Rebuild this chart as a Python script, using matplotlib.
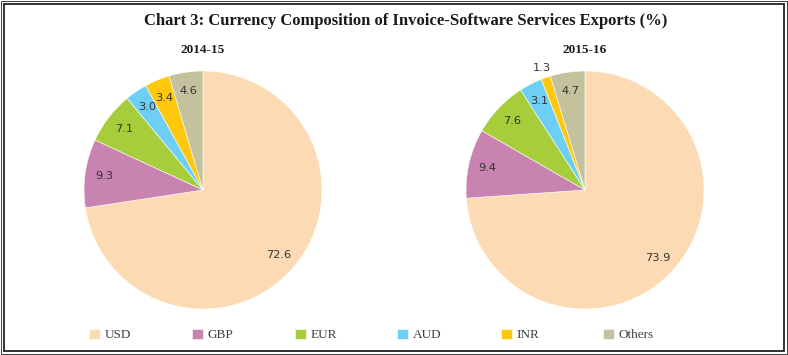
import matplotlib
matplotlib.use("Agg")
import matplotlib.pyplot as plt
from matplotlib.patches import Rectangle
from matplotlib.font_manager import FontProperties
import numpy as np

categories = ["USD", "GBP", "EUR", "AUD", "INR", "Others"]
values_2014 = [72.6, 9.3, 7.1, 3.0, 3.4, 4.6]
values_2015 = [73.9, 9.4, 7.6, 3.1, 1.3, 4.7]
labels_2014 = ["72.6", "9.3", "7.1", "3.0", "3.4", "4.6"]
labels_2015 = ["73.9", "9.4", "7.6", "3.1", "1.3", "4.7"]
years = ["2014-15", "2015-16"]
title = "Chart 3: Currency Composition of Invoice-Software Services Exports (%)"

colors = ["#FCDAB3", "#C883B0", "#A7CE3A", "#6DCFF6", "#FFC80C", "#C4C19D"]

W, H = 788, 355
fig = plt.figure(figsize=(W / 100, H / 100), dpi=100)

serif = ["Liberation Serif", "DejaVu Serif"]

def px_axes(cx, cy, r):
    return [(cx - r) / W, (H - cy - r) / H, 2 * r / W, 2 * r / H]

centers = [(203, 190), (585, 190)]
R = 119
all_wedges = None
for (cx, cy), vals, labs, yr in zip(centers, [values_2014, values_2015],
                                    [labels_2014, labels_2015], years):
    ax = fig.add_axes(px_axes(cx, cy, R))
    wedges, _ = ax.pie(vals, colors=colors, startangle=90, counterclock=False,
                       radius=1.0,
                       wedgeprops=dict(edgecolor="white", linewidth=0.4))
    if all_wedges is None:
        all_wedges = wedges
    for w, lab, v in zip(wedges, labs, vals):
        ang = np.deg2rad((w.theta1 + w.theta2) / 2)
        d = 0.84 if v >= 2.5 else 1.09
        ax.text(d * np.cos(ang), d * np.sin(ang), lab, ha="center", va="center",
                fontsize=8.2, color="#333333", family="DejaVu Sans")
    ax.set_xlim(-1, 1)
    ax.set_ylim(-1, 1)
    ax.set_aspect("equal")
    ax.axis("off")
    fig.text(cx / W, 1 - 50 / H, yr, ha="center", va="center",
             fontsize=9.5, fontweight="bold", family=serif, color="#1a1a1a")

fig.text(406 / W, 1 - 21 / H, title, ha="center", va="center",
         fontsize=12, fontweight="bold", family=serif, color="#1a1a1a")

# legend, one entry per fixed slot
slot_x = [89, 192, 295, 397, 501, 603]
leg_font = FontProperties(family="Liberation Serif", size=9.5)
for w, cat, x in zip(all_wedges, categories, slot_x):
    fig.legend([w], [cat], loc="center left",
               bbox_to_anchor=(x / W, 1 - 335 / H), frameon=False,
               handlelength=0.8, handleheight=0.8, handletextpad=0.4,
               borderpad=0, borderaxespad=0,
               prop=leg_font, labelcolor="#404040")

# double frame
fig.patches.append(Rectangle((0.8 / W, 0.8 / H), (W - 1.6) / W, (H - 1.6) / H,
                             transform=fig.transFigure, fill=False,
                             edgecolor="#222222", linewidth=0.6))
fig.patches.append(Rectangle((4 / W, 4 / H), (W - 8) / W, (H - 8) / H,
                             transform=fig.transFigure, fill=False,
                             edgecolor="#222222", linewidth=1.3))

fig.savefig("out.png", dpi=100)
